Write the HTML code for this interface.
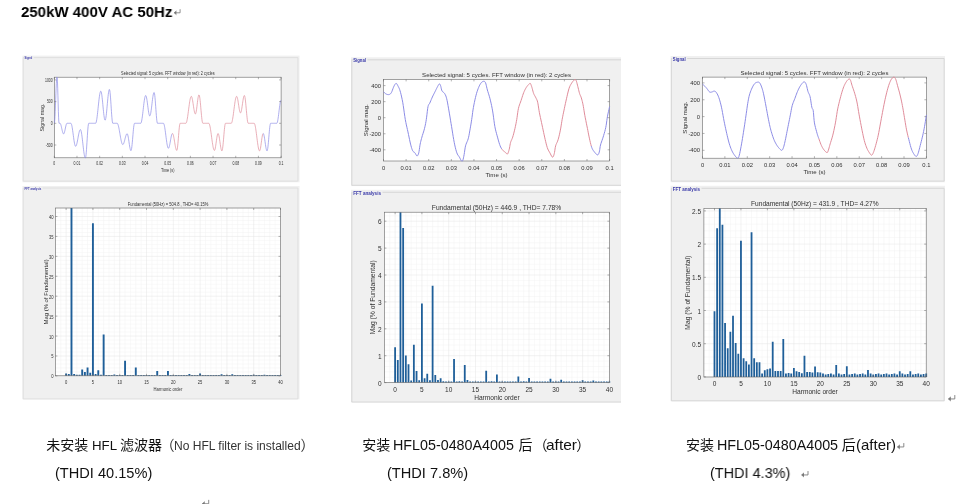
<!DOCTYPE html>
<html><head><meta charset="utf-8"><title>250kW 400V AC 50Hz</title>
<style>
html,body{margin:0;padding:0;background:#fff;}
body{width:974px;height:504px;position:relative;overflow:hidden;font-family:"Liberation Sans",sans-serif;}
svg{position:absolute;left:0;top:0;will-change:transform;}
svg text{font-family:"Liberation Sans",sans-serif;}
.t{will-change:transform;position:absolute;white-space:nowrap;line-height:1;transform-origin:0 0;display:inline-block;}
</style></head><body>
<svg width="974" height="504" viewBox="0 0 974 504">
<rect x="22.4" y="55.6" width="277.1" height="126.7" fill="#f0f0f0"/>
<rect x="22.4" y="186" width="277.1" height="213.4" fill="#f0f0f0"/>
<rect x="54.3" y="77.2" width="226.8" height="80.6" fill="#fff" stroke="#666" stroke-width="0.6"/>
<path d="M54.3 123.3 L54.53 122.5 L54.75 120.16 L54.98 116.44 L55.21 111.58 L55.43 105.93 L55.66 99.86 L55.89 93.8 L56.11 88.15 L56.34 83.29 L56.57 79.57 L56.79 77.23 L57.02 77.2 L57.25 77.84 L57.48 81.91 L57.7 88.15 L57.93 95.79 L58.16 103.93 L58.38 111.58 L58.61 117.82 L58.84 121.89 L59.06 123.3 L59.29 123.3 L59.52 123.3 L59.74 123.3 L59.97 123.3 L60.2 123.4 L60.42 123.7 L60.65 124.19 L60.88 124.85 L61.1 125.65 L61.33 126.57 L61.56 127.56 L61.78 128.59 L62.01 129.63 L62.24 130.62 L62.46 131.54 L62.69 132.34 L62.92 133 L63.15 133.49 L63.37 133.79 L63.6 133.89 L63.83 133.77 L64.05 133.43 L64.28 132.88 L64.51 132.14 L64.73 131.24 L64.96 130.23 L65.19 129.15 L65.41 128.04 L65.64 126.96 L65.87 125.95 L66.09 125.05 L66.32 124.31 L66.55 123.76 L66.77 123.42 L67 123.3 L67.23 123.3 L67.45 123.3 L67.68 123.3 L67.91 123.3 L68.13 123.3 L68.36 123.3 L68.59 123.3 L68.82 123.3 L69.04 123.3 L69.27 123.3 L69.5 123.3 L69.72 123.3 L69.95 123.3 L70.18 123.3 L70.4 123.3 L70.63 123.3 L70.86 123.3 L71.08 123.43 L71.31 123.81 L71.54 124.44 L71.76 125.3 L71.99 126.37 L72.22 127.63 L72.44 129.05 L72.67 130.6 L72.9 132.24 L73.12 133.94 L73.35 135.66 L73.58 137.36 L73.8 139 L74.03 140.55 L74.26 141.97 L74.49 143.23 L74.71 144.3 L74.94 145.16 L75.17 145.79 L75.39 146.17 L75.62 146.3 L75.85 146.21 L76.07 145.93 L76.3 145.47 L76.53 144.85 L76.75 144.07 L76.98 143.16 L77.21 142.12 L77.43 141 L77.66 139.81 L77.89 138.57 L78.11 137.32 L78.34 136.09 L78.57 134.9 L78.79 133.77 L79.02 132.74 L79.25 131.82 L79.47 131.04 L79.7 130.42 L79.93 129.96 L80.16 129.69 L80.38 129.59 L80.61 129.74 L80.84 130.17 L81.06 130.88 L81.29 131.85 L81.52 133.06 L81.74 134.5 L81.97 136.12 L82.2 137.9 L82.42 139.8 L82.65 141.78 L82.88 143.81 L83.1 145.83 L83.33 147.81 L83.56 149.71 L83.78 151.49 L84.01 153.11 L84.24 154.55 L84.46 155.76 L84.69 156.74 L84.92 157.44 L85.14 157.8 L85.37 157.8 L85.6 157.64 L85.83 156.52 L86.05 154.7 L86.28 152.28 L86.51 149.34 L86.73 146.02 L86.96 142.47 L87.19 138.85 L87.41 135.3 L87.64 131.98 L87.87 129.04 L88.09 126.62 L88.32 124.8 L88.55 123.68 L88.77 123.3 L89 123.3 L89.23 123.3 L89.45 123.3 L89.68 123.3 L89.91 123.3 L90.13 123.3 L90.36 123.3 L90.59 123.3 L90.81 123.3 L91.04 123.3 L91.27 123.3 L91.5 123.3 L91.72 123.3 L91.95 123.3 L92.18 123.3 L92.4 123.3 L92.63 123.3 L92.86 123.3 L93.08 123.3 L93.31 123.3 L93.54 123.3 L93.76 123.3 L93.99 123.3 L94.22 123.3 L94.44 123.3 L94.67 123.3 L94.9 123.3 L95.12 123.3 L95.35 123.3 L95.58 123.3 L95.8 123.15 L96.03 122.7 L96.26 121.97 L96.48 120.96 L96.71 119.7 L96.94 118.2 L97.17 116.5 L97.39 114.63 L97.62 112.62 L97.85 110.51 L98.07 108.34 L98.3 106.15 L98.53 103.97 L98.75 101.86 L98.98 99.85 L99.21 97.98 L99.43 96.28 L99.66 94.79 L99.89 93.52 L100.11 92.51 L100.34 91.78 L100.57 91.33 L100.79 91.18 L101.02 91.38 L101.25 91.97 L101.47 92.94 L101.7 94.25 L101.93 95.88 L102.15 97.77 L102.38 99.88 L102.61 102.15 L102.84 104.52 L103.06 106.92 L103.29 109.29 L103.52 111.56 L103.74 113.68 L103.97 115.57 L104.2 117.2 L104.42 118.51 L104.65 119.47 L104.88 120.06 L105.1 120.26 L105.33 120.05 L105.56 119.43 L105.78 118.41 L106.01 117.01 L106.24 115.29 L106.46 113.28 L106.69 111.04 L106.92 108.64 L107.14 106.13 L107.37 103.58 L107.6 101.07 L107.82 98.67 L108.05 96.43 L108.28 94.42 L108.51 92.7 L108.73 91.3 L108.96 90.28 L109.19 89.66 L109.41 89.45 L109.64 89.82 L109.87 90.91 L110.09 92.68 L110.32 95.05 L110.55 97.91 L110.77 101.14 L111 104.6 L111.23 108.14 L111.45 111.6 L111.68 114.84 L111.91 117.7 L112.13 120.07 L112.36 121.84 L112.59 122.93 L112.81 123.3 L113.04 123.3 L113.27 123.3 L113.49 123.3 L113.72 123.3 L113.95 123.3 L114.18 123.3 L114.4 123.3 L114.63 123.3 L114.86 123.3 L115.08 123.3 L115.31 123.3 L115.54 123.3 L115.76 123.3 L115.99 123.3 L116.22 123.3 L116.44 123.3 L116.67 123.3 L116.9 123.3 L117.12 123.3 L117.35 123.38 L117.58 123.63 L117.8 124.05 L118.03 124.62 L118.26 125.33 L118.48 126.18 L118.71 127.16 L118.94 128.24 L119.16 129.41 L119.39 130.65 L119.62 131.94 L119.85 133.27 L120.07 134.6 L120.3 135.93 L120.53 137.22 L120.75 138.46 L120.98 139.63 L121.21 140.71 L121.43 141.68 L121.66 142.54 L121.89 143.25 L122.11 143.82 L122.34 144.23 L122.57 144.48 L122.79 144.57 L123.02 144.49 L123.25 144.27 L123.47 143.91 L123.7 143.42 L123.93 142.82 L124.15 142.11 L124.38 141.32 L124.61 140.47 L124.83 139.59 L125.06 138.69 L125.29 137.81 L125.52 136.96 L125.74 136.17 L125.97 135.47 L126.2 134.86 L126.42 134.37 L126.65 134.01 L126.88 133.79 L127.1 133.72 L127.33 133.86 L127.56 134.29 L127.78 134.98 L128.01 135.92 L128.24 137.08 L128.46 138.41 L128.69 139.86 L128.92 141.4 L129.14 142.96 L129.37 144.5 L129.6 145.95 L129.82 147.28 L130.05 148.43 L130.28 149.37 L130.5 150.07 L130.73 150.5 L130.96 150.64 L131.19 150.38 L131.41 149.6 L131.64 148.34 L131.87 146.64 L132.09 144.57 L132.32 142.2 L132.55 139.64 L132.77 136.97 L133 134.3 L133.23 131.74 L133.45 129.38 L133.68 127.3 L133.91 125.6 L134.13 124.34 L134.36 123.56 L134.59 123.3 L134.81 123.3 L135.04 123.3 L135.27 123.3 L135.49 123.3 L135.72 123.3 L135.95 123.3 L136.17 123.3 L136.4 123.3 L136.63 123.3 L136.86 123.3 L137.08 123.3 L137.31 123.3 L137.54 123.3 L137.76 123.3 L137.99 123.3 L138.22 123.3 L138.44 123.3 L138.67 123.3 L138.9 123.3 L139.12 123.3 L139.35 123.3 L139.58 123.3 L139.8 123.3 L140.03 123.3 L140.26 123.3 L140.48 123.3 L140.71 123.3 L140.94 123.16 L141.16 122.74 L141.39 122.04 L141.62 121.1 L141.84 119.91 L142.07 118.51 L142.3 116.92 L142.53 115.18 L142.75 113.32 L142.98 111.39 L143.21 109.41 L143.43 107.44 L143.66 105.5 L143.89 103.64 L144.11 101.9 L144.34 100.32 L144.57 98.92 L144.79 97.73 L145.02 96.78 L145.25 96.09 L145.47 95.67 L145.7 95.52 L145.93 95.68 L146.15 96.14 L146.38 96.89 L146.61 97.91 L146.83 99.17 L147.06 100.62 L147.29 102.23 L147.51 103.95 L147.74 105.72 L147.97 107.49 L148.2 109.21 L148.42 110.82 L148.65 112.28 L148.88 113.54 L149.1 114.56 L149.33 115.31 L149.56 115.77 L149.78 115.92 L150.01 115.76 L150.24 115.29 L150.46 114.51 L150.69 113.45 L150.92 112.14 L151.14 110.61 L151.37 108.91 L151.6 107.08 L151.82 105.17 L152.05 103.24 L152.28 101.33 L152.5 99.5 L152.73 97.79 L152.96 96.27 L153.18 94.96 L153.41 93.9 L153.64 93.12 L153.87 92.65 L154.09 92.49 L154.32 92.82 L154.55 93.82 L154.77 95.43 L155 97.58 L155.23 100.19 L155.45 103.13 L155.68 106.28 L155.91 109.5 L156.13 112.65 L156.36 115.6 L156.59 118.2 L156.81 120.36 L157.04 121.97 L157.27 122.96 L157.49 123.3 L157.72 123.3 L157.95 123.3 L158.17 123.3 L158.4 123.3 L158.63 123.3 L158.85 123.3 L159.08 123.3 L159.31 123.3 L159.54 123.3 L159.76 123.3 L159.99 123.3 L160.22 123.3 L160.44 123.3 L160.67 123.3 L160.9 123.3 L161.12 123.3 L161.35 123.3 L161.58 123.3 L161.8 123.3 L162.03 123.3 L162.26 123.3 L162.48 123.3 L162.71 123.3 L162.94 123.3 L163.16 123.3 L163.39 123.3 L163.62 123.43 L163.84 123.81 L164.07 124.43 L164.3 125.28 L164.52 126.35 L164.75 127.61 L164.98 129.03 L165.21 130.59 L165.43 132.26 L165.66 134 L165.89 135.78 L166.11 137.55 L166.34 139.29 L166.57 140.96 L166.79 142.52 L167.02 143.95 L167.25 145.21 L167.47 146.27 L167.7 147.13 L167.93 147.75 L168.15 148.13 L168.38 148.25 L168.61 148.14 L168.83 147.81 L169.06 147.27 L169.29 146.53 L169.51 145.62 L169.74 144.57 L169.97 143.4 L170.19 142.16 L170.42 140.88 L170.65 139.6 L170.88 138.35 L171.1 137.19 L171.33 136.13 L171.56 135.23 L171.78 134.49 L172.01 133.94 L172.24 133.61" fill="none" stroke="#8c8ce6" stroke-width="0.7" stroke-linejoin="round"/>
<path d="M172.24 133.61 L172.24 133.61 L172.46 133.5 L172.69 133.61 L172.92 133.96 L173.14 134.52 L173.37 135.28 L173.6 136.23 L173.82 137.33 L174.05 138.56 L174.28 139.88 L174.5 141.26 L174.73 142.66 L174.96 144.04 L175.18 145.36 L175.41 146.59 L175.64 147.69 L175.86 148.64 L176.09 149.4 L176.32 149.97 L176.55 150.31 L176.77 150.43 L177 150.13 L177.23 149.25 L177.45 147.83 L177.68 145.94 L177.91 143.64 L178.13 141.05 L178.36 138.28 L178.59 135.44 L178.81 132.67 L179.04 130.08 L179.27 127.79 L179.49 125.89 L179.72 124.47 L179.95 123.6 L180.17 123.3 L180.4 123.3 L180.63 123.3 L180.85 123.3 L181.08 123.3 L181.31 123.3 L181.53 123.3 L181.76 123.3 L181.99 123.3 L182.22 123.3 L182.44 123.3 L182.67 123.3 L182.9 123.3 L183.12 123.3 L183.35 123.3 L183.58 123.3 L183.8 123.3 L184.03 123.3 L184.26 123.3 L184.48 123.3 L184.71 123.3 L184.94 123.3 L185.16 123.3 L185.39 123.3 L185.62 123.3 L185.84 123.3 L186.07 123.18 L186.3 122.84 L186.52 122.28 L186.75 121.5 L186.98 120.52 L187.2 119.36 L187.43 118.04 L187.66 116.57 L187.89 114.99 L188.11 113.33 L188.34 111.6 L188.57 109.85 L188.79 108.09 L189.02 106.36 L189.25 104.7 L189.47 103.12 L189.7 101.66 L189.93 100.33 L190.15 99.17 L190.38 98.19 L190.61 97.42 L190.83 96.85 L191.06 96.51 L191.29 96.39 L191.51 96.53 L191.74 96.92 L191.97 97.57 L192.19 98.45 L192.42 99.53 L192.65 100.79 L192.87 102.17 L193.1 103.65 L193.33 105.18 L193.56 106.71 L193.78 108.19 L194.01 109.57 L194.24 110.83 L194.46 111.91 L194.69 112.79 L194.92 113.44 L195.14 113.84 L195.37 113.97 L195.6 113.79 L195.82 113.24 L196.05 112.36 L196.28 111.17 L196.5 109.73 L196.73 108.07 L196.96 106.28 L197.18 104.42 L197.41 102.56 L197.64 100.77 L197.86 99.12 L198.09 97.67 L198.32 96.48 L198.54 95.6 L198.77 95.06 L199 94.87 L199.23 95.12 L199.45 95.83 L199.68 97 L199.91 98.58 L200.13 100.52 L200.36 102.75 L200.59 105.2 L200.81 107.78 L201.04 110.4 L201.27 112.98 L201.49 115.42 L201.72 117.65 L201.95 119.59 L202.17 121.17 L202.4 122.34 L202.63 123.06 L202.85 123.3 L203.08 123.3 L203.31 123.3 L203.53 123.3 L203.76 123.3 L203.99 123.3 L204.21 123.3 L204.44 123.3 L204.67 123.3 L204.9 123.3 L205.12 123.3 L205.35 123.3 L205.58 123.3 L205.8 123.3 L206.03 123.3 L206.26 123.3 L206.48 123.3 L206.71 123.3 L206.94 123.3 L207.16 123.3 L207.39 123.3 L207.62 123.3 L207.84 123.3 L208.07 123.3 L208.3 123.3 L208.52 123.3 L208.75 123.3 L208.98 123.41 L209.2 123.73 L209.43 124.25 L209.66 124.98 L209.88 125.89 L210.11 126.98 L210.34 128.22 L210.57 129.6 L210.79 131.09 L211.02 132.67 L211.25 134.32 L211.47 136.01 L211.7 137.71 L211.93 139.4 L212.15 141.05 L212.38 142.64 L212.61 144.13 L212.83 145.51 L213.06 146.75 L213.29 147.83 L213.51 148.75 L213.74 149.47 L213.97 150 L214.19 150.32 L214.42 150.43 L214.65 150.26 L214.87 149.78 L215.1 149 L215.33 147.95 L215.55 146.66 L215.78 145.2 L216.01 143.61 L216.24 141.96 L216.46 140.31 L216.69 138.72 L216.92 137.26 L217.14 135.98 L217.37 134.93 L217.6 134.14 L217.82 133.66 L218.05 133.5 L218.28 133.65 L218.5 134.09 L218.73 134.8 L218.96 135.76 L219.18 136.95 L219.41 138.31 L219.64 139.8 L219.86 141.38 L220.09 142.98 L220.32 144.55 L220.54 146.05 L220.77 147.41 L221 148.59 L221.22 149.56 L221.45 150.27 L221.68 150.71 L221.91 150.86 L222.13 150.59 L222.36 149.81 L222.59 148.54 L222.81 146.82 L223.04 144.73 L223.27 142.35 L223.49 139.77 L223.72 137.08 L223.95 134.39 L224.17 131.81 L224.4 129.42 L224.63 127.34 L224.85 125.62 L225.08 124.35 L225.31 123.56 L225.53 123.3 L225.76 123.3 L225.99 123.3 L226.21 123.3 L226.44 123.3 L226.67 123.3 L226.89 123.3 L227.12 123.3 L227.35 123.3 L227.58 123.3 L227.8 123.3 L228.03 123.3 L228.26 123.3 L228.48 123.3 L228.71 123.3 L228.94 123.3 L229.16 123.3 L229.39 123.3 L229.62 123.3 L229.84 123.3 L230.07 123.3 L230.3 123.3 L230.52 123.3 L230.75 123.3 L230.98 123.3 L231.2 123.3 L231.43 123.18 L231.66 122.84 L231.88 122.28 L232.11 121.5 L232.34 120.52 L232.56 119.36 L232.79 118.04 L233.02 116.57 L233.25 114.99 L233.47 113.33 L233.7 111.6 L233.93 109.85 L234.15 108.09 L234.38 106.36 L234.61 104.7 L234.83 103.12 L235.06 101.66 L235.29 100.33 L235.51 99.17 L235.74 98.19 L235.97 97.42 L236.19 96.85 L236.42 96.51 L236.65 96.39 L236.87 96.53 L237.1 96.95 L237.33 97.63 L237.55 98.54 L237.78 99.67 L238.01 100.96 L238.23 102.38 L238.46 103.88 L238.69 105.4 L238.92 106.89 L239.14 108.31 L239.37 109.61 L239.6 110.73 L239.82 111.65 L240.05 112.33 L240.28 112.74 L240.5 112.88 L240.73 112.74 L240.96 112.3 L241.18 111.58 L241.41 110.62 L241.64 109.43 L241.86 108.07 L242.09 106.58 L242.32 105 L242.54 103.4 L242.77 101.83 L243 100.33 L243.22 98.97 L243.45 97.79 L243.68 96.82 L243.9 96.11 L244.13 95.67 L244.36 95.52 L244.59 95.76 L244.81 96.46 L245.04 97.6 L245.27 99.15 L245.49 101.04 L245.72 103.22 L245.95 105.61 L246.17 108.13 L246.4 110.69 L246.63 113.21 L246.85 115.6 L247.08 117.78 L247.31 119.68 L247.53 121.22 L247.76 122.36 L247.99 123.06 L248.21 123.3 L248.44 123.3 L248.67 123.3 L248.89 123.3 L249.12 123.3 L249.35 123.3 L249.57 123.3 L249.8 123.3 L250.03 123.3 L250.26 123.3 L250.48 123.3 L250.71 123.3 L250.94 123.3 L251.16 123.3 L251.39 123.3 L251.62 123.3 L251.84 123.3 L252.07 123.3 L252.3 123.3 L252.52 123.3 L252.75 123.3 L252.98 123.3 L253.2 123.3 L253.43 123.3 L253.66 123.3 L253.88 123.3 L254.11 123.3 L254.34 123.42 L254.56 123.77 L254.79 124.35 L255.02 125.15 L255.24 126.15 L255.47 127.34 L255.7 128.69 L255.93 130.19 L256.15 131.81 L256.38 133.51 L256.61 135.28 L256.83 137.08 L257.06 138.88 L257.29 140.65 L257.51 142.35 L257.74 143.97 L257.97 145.47 L258.19 146.82 L258.42 148.01 L258.65 149.01 L258.87 149.81 L259.1 150.39 L259.33 150.74 L259.55 150.86 L259.78 150.69 L260.01 150.2 L260.23 149.4 L260.46 148.32 L260.69 147 L260.91 145.5 L261.14 143.87 L261.37 142.18 L261.6 140.49 L261.82 138.86 L262.05 137.36 L262.28 136.04 L262.5 134.96 L262.73 134.16 L262.96 133.67" fill="none" stroke="#e08c9a" stroke-width="0.7" stroke-linejoin="round"/>
<path d="M262.96 133.67 L262.96 133.67 L263.18 133.5 L263.41 133.65 L263.64 134.09 L263.86 134.8 L264.09 135.76 L264.32 136.95 L264.54 138.31 L264.77 139.8 L265 141.38 L265.22 142.98 L265.45 144.55 L265.68 146.05 L265.9 147.41 L266.13 148.59 L266.36 149.56 L266.58 150.27 L266.81 150.71 L267.04 150.86 L267.27 150.59 L267.49 149.81 L267.72 148.54 L267.95 146.82 L268.17 144.73 L268.4 142.35 L268.63 139.77 L268.85 137.08 L269.08 134.39 L269.31 131.81 L269.53 129.42 L269.76 127.34 L269.99 125.62 L270.21 124.35 L270.44 123.56 L270.67 123.3 L270.89 123.3 L271.12 123.3 L271.35 123.3 L271.57 123.3 L271.8 123.3 L272.03 123.3 L272.25 123.3 L272.48 123.3 L272.71 123.3 L272.94 123.3 L273.16 123.3 L273.39 123.3 L273.62 123.3 L273.84 123.3 L274.07 123.3 L274.3 123.3 L274.52 123.3 L274.75 123.3 L274.98 123.3 L275.2 123.3 L275.43 123.3 L275.66 123.3 L275.88 123.3 L276.11 123.3 L276.34 123.3 L276.56 123.3 L276.79 123.3 L277.02 123.14 L277.24 122.68 L277.47 121.91 L277.7 120.87 L277.92 119.59 L278.15 118.09 L278.38 116.42 L278.61 114.62 L278.83 112.75 L279.06 110.85 L279.29 108.98 L279.51 107.18 L279.74 105.51 L279.97 104.01 L280.19 102.72 L280.42 101.68 L280.65 100.92 L280.87 100.45 L281.1 100.3" fill="none" stroke="#8c8ce6" stroke-width="0.7" stroke-linejoin="round"/>
<path d="M54.3 157.8v-2M54.3 77.2v2" stroke="#666" stroke-width="0.5"/>
<text transform="translate(54.3 164.8) scale(0.72 1)" font-size="4.8" text-anchor="middle" fill="#303030" font-weight="normal">0</text>
<path d="M76.98 157.8v-2M76.98 77.2v2" stroke="#666" stroke-width="0.5"/>
<text transform="translate(76.98 164.8) scale(0.72 1)" font-size="4.8" text-anchor="middle" fill="#303030" font-weight="normal">0.01</text>
<path d="M99.66 157.8v-2M99.66 77.2v2" stroke="#666" stroke-width="0.5"/>
<text transform="translate(99.66 164.8) scale(0.72 1)" font-size="4.8" text-anchor="middle" fill="#303030" font-weight="normal">0.02</text>
<path d="M122.34 157.8v-2M122.34 77.2v2" stroke="#666" stroke-width="0.5"/>
<text transform="translate(122.34 164.8) scale(0.72 1)" font-size="4.8" text-anchor="middle" fill="#303030" font-weight="normal">0.03</text>
<path d="M145.02 157.8v-2M145.02 77.2v2" stroke="#666" stroke-width="0.5"/>
<text transform="translate(145.02 164.8) scale(0.72 1)" font-size="4.8" text-anchor="middle" fill="#303030" font-weight="normal">0.04</text>
<path d="M167.7 157.8v-2M167.7 77.2v2" stroke="#666" stroke-width="0.5"/>
<text transform="translate(167.7 164.8) scale(0.72 1)" font-size="4.8" text-anchor="middle" fill="#303030" font-weight="normal">0.05</text>
<path d="M190.38 157.8v-2M190.38 77.2v2" stroke="#666" stroke-width="0.5"/>
<text transform="translate(190.38 164.8) scale(0.72 1)" font-size="4.8" text-anchor="middle" fill="#303030" font-weight="normal">0.06</text>
<path d="M213.06 157.8v-2M213.06 77.2v2" stroke="#666" stroke-width="0.5"/>
<text transform="translate(213.06 164.8) scale(0.72 1)" font-size="4.8" text-anchor="middle" fill="#303030" font-weight="normal">0.07</text>
<path d="M235.74 157.8v-2M235.74 77.2v2" stroke="#666" stroke-width="0.5"/>
<text transform="translate(235.74 164.8) scale(0.72 1)" font-size="4.8" text-anchor="middle" fill="#303030" font-weight="normal">0.08</text>
<path d="M258.42 157.8v-2M258.42 77.2v2" stroke="#666" stroke-width="0.5"/>
<text transform="translate(258.42 164.8) scale(0.72 1)" font-size="4.8" text-anchor="middle" fill="#303030" font-weight="normal">0.09</text>
<path d="M281.1 157.8v-2M281.1 77.2v2" stroke="#666" stroke-width="0.5"/>
<text transform="translate(281.1 164.8) scale(0.72 1)" font-size="4.8" text-anchor="middle" fill="#303030" font-weight="normal">0.1</text>
<path d="M54.3 79.9h2M281.1 79.9h-2" stroke="#666" stroke-width="0.5"/>
<text transform="translate(52.7 81.63) scale(0.72 1)" font-size="4.8" text-anchor="end" fill="#303030" font-weight="normal">1000</text>
<path d="M54.3 101.6h2M281.1 101.6h-2" stroke="#666" stroke-width="0.5"/>
<text transform="translate(52.7 103.33) scale(0.72 1)" font-size="4.8" text-anchor="end" fill="#303030" font-weight="normal">500</text>
<path d="M54.3 123.3h2M281.1 123.3h-2" stroke="#666" stroke-width="0.5"/>
<text transform="translate(52.7 125.03) scale(0.72 1)" font-size="4.8" text-anchor="end" fill="#303030" font-weight="normal">0</text>
<path d="M54.3 145h2M281.1 145h-2" stroke="#666" stroke-width="0.5"/>
<text transform="translate(52.7 146.73) scale(0.72 1)" font-size="4.8" text-anchor="end" fill="#303030" font-weight="normal">-500</text>
<text transform="translate(121.1 75.2)" font-size="5.2" text-anchor="start" fill="#303030" font-weight="normal" textLength="93.5" lengthAdjust="spacingAndGlyphs">Selected signal: 5 cycles. FFT window (in red): 2 cycles</text>
<text transform="translate(167.7 171.6) scale(0.72 1)" font-size="5.2" text-anchor="middle" fill="#303030" font-weight="normal">Time (s)</text>
<text transform="translate(44.2 117.5) rotate(-90)" font-size="5.2" text-anchor="middle" fill="#303030" font-weight="normal" textLength="28" lengthAdjust="spacingAndGlyphs">Signal mag.</text>
<rect x="55.4" y="208" width="225.1" height="167.8" fill="#fff"/>
<path d="M60.76 208V375.8M71.48 208V375.8M76.84 208V375.8M82.2 208V375.8M87.56 208V375.8M98.28 208V375.8M103.64 208V375.8M109 208V375.8M114.35 208V375.8M125.07 208V375.8M130.43 208V375.8M135.79 208V375.8M141.15 208V375.8M151.87 208V375.8M157.23 208V375.8M162.59 208V375.8M167.95 208V375.8M178.67 208V375.8M184.03 208V375.8M189.39 208V375.8M194.75 208V375.8M205.47 208V375.8M210.83 208V375.8M216.19 208V375.8M221.55 208V375.8M232.26 208V375.8M237.62 208V375.8M242.98 208V375.8M248.34 208V375.8M259.06 208V375.8M264.42 208V375.8M269.78 208V375.8M275.14 208V375.8M55.4 371.91H280.5M55.4 367.93H280.5M55.4 363.94H280.5M55.4 359.96H280.5M55.4 351.99H280.5M55.4 348H280.5M55.4 344.02H280.5M55.4 340.03H280.5M55.4 332.06H280.5M55.4 328.08H280.5M55.4 324.09H280.5M55.4 320.11H280.5M55.4 312.14H280.5M55.4 308.15H280.5M55.4 304.17H280.5M55.4 300.18H280.5M55.4 292.21H280.5M55.4 288.23H280.5M55.4 284.25H280.5M55.4 280.26H280.5M55.4 272.29H280.5M55.4 268.3H280.5M55.4 264.32H280.5M55.4 260.33H280.5M55.4 252.36H280.5M55.4 248.38H280.5M55.4 244.39H280.5M55.4 240.41H280.5M55.4 232.44H280.5M55.4 228.45H280.5M55.4 224.47H280.5M55.4 220.48H280.5M55.4 212.51H280.5M55.4 208.53H280.5" stroke="#f2f2f2" stroke-width="0.5" fill="none"/>
<path d="M66.12 208V375.8M92.92 208V375.8M119.71 208V375.8M146.51 208V375.8M173.31 208V375.8M200.11 208V375.8M226.9 208V375.8M253.7 208V375.8M55.4 375.9H280.5M55.4 355.97H280.5M55.4 336.05H280.5M55.4 316.12H280.5M55.4 296.2H280.5M55.4 276.27H280.5M55.4 256.35H280.5M55.4 236.42H280.5M55.4 216.5H280.5" stroke="#e4e4e4" stroke-width="0.5" fill="none"/>
<path d="M65.17 375.8V373.51h1.9V375.8zM67.85 375.8V373.91h1.9V375.8zM70.53 375.8V208h1.9V375.8zM73.21 375.8V373.91h1.9V375.8zM75.89 375.8V374.7h1.9V375.8zM78.57 375.8V374.7h1.9V375.8zM81.25 375.8V369.52h1.9V375.8zM83.93 375.8V371.91h1.9V375.8zM86.61 375.8V367.53h1.9V375.8zM89.29 375.8V372.71h1.9V375.8zM91.97 375.8V223.27h1.9V375.8zM94.65 375.8V373.91h1.9V375.8zM97.33 375.8V370.32h1.9V375.8zM100.01 375.8V374.7h1.9V375.8zM102.69 375.8V334.46h1.9V375.8zM105.37 375.8V374.9h1.9V375.8zM108.05 375.8V374.9h1.9V375.8zM110.72 375.8V374.9h1.9V375.8zM113.4 375.8V374.51h1.9V375.8zM116.08 375.8V374.9h1.9V375.8zM118.76 375.8V374.9h1.9V375.8zM121.44 375.8V374.9h1.9V375.8zM124.12 375.8V360.76h1.9V375.8zM126.8 375.8V374.9h1.9V375.8zM129.48 375.8V374.9h1.9V375.8zM132.16 375.8V374.9h1.9V375.8zM134.84 375.8V367.53h1.9V375.8zM137.52 375.8V374.9h1.9V375.8zM140.2 375.8V374.9h1.9V375.8zM142.88 375.8V374.9h1.9V375.8zM145.56 375.8V374.9h1.9V375.8zM148.24 375.8V374.9h1.9V375.8zM150.92 375.8V374.9h1.9V375.8zM153.6 375.8V374.9h1.9V375.8zM156.28 375.8V371.12h1.9V375.8zM158.96 375.8V374.9h1.9V375.8zM161.64 375.8V374.9h1.9V375.8zM164.32 375.8V374.9h1.9V375.8zM167 375.8V371.12h1.9V375.8zM169.68 375.8V374.9h1.9V375.8zM172.36 375.8V374.9h1.9V375.8zM175.04 375.8V374.9h1.9V375.8zM177.72 375.8V374.9h1.9V375.8zM180.4 375.8V374.9h1.9V375.8zM183.08 375.8V374.9h1.9V375.8zM185.76 375.8V374.9h1.9V375.8zM188.44 375.8V373.91h1.9V375.8zM191.12 375.8V374.9h1.9V375.8zM193.8 375.8V374.9h1.9V375.8zM196.48 375.8V374.9h1.9V375.8zM199.16 375.8V373.51h1.9V375.8zM201.84 375.8V374.9h1.9V375.8zM204.52 375.8V374.9h1.9V375.8zM207.2 375.8V374.9h1.9V375.8zM209.88 375.8V374.9h1.9V375.8zM212.56 375.8V374.9h1.9V375.8zM215.24 375.8V374.9h1.9V375.8zM217.92 375.8V374.9h1.9V375.8zM220.6 375.8V374.31h1.9V375.8zM223.28 375.8V374.9h1.9V375.8zM225.95 375.8V374.9h1.9V375.8zM228.63 375.8V374.9h1.9V375.8zM231.31 375.8V374.31h1.9V375.8zM233.99 375.8V374.9h1.9V375.8zM236.67 375.8V374.9h1.9V375.8zM239.35 375.8V374.9h1.9V375.8zM242.03 375.8V374.9h1.9V375.8zM244.71 375.8V374.9h1.9V375.8zM247.39 375.8V374.9h1.9V375.8zM250.07 375.8V374.9h1.9V375.8zM252.75 375.8V374.7h1.9V375.8zM255.43 375.8V374.9h1.9V375.8zM258.11 375.8V374.9h1.9V375.8zM260.79 375.8V374.9h1.9V375.8zM263.47 375.8V374.7h1.9V375.8zM266.15 375.8V374.9h1.9V375.8zM268.83 375.8V374.9h1.9V375.8zM271.51 375.8V374.9h1.9V375.8zM274.19 375.8V374.9h1.9V375.8zM276.87 375.8V374.9h1.9V375.8zM279.55 375.8V374.9h1.9V375.8z" fill="#1f5f99"/>
<rect x="55.4" y="208" width="225.1" height="167.8" fill="none" stroke="#666" stroke-width="0.6"/>
<path d="M66.12 375.8v-2M66.12 208v2" stroke="#666" stroke-width="0.5"/>
<text transform="translate(66.12 384) scale(0.72 1)" font-size="5.7" text-anchor="middle" fill="#303030" font-weight="normal">0</text>
<path d="M92.92 375.8v-2M92.92 208v2" stroke="#666" stroke-width="0.5"/>
<text transform="translate(92.92 384) scale(0.72 1)" font-size="5.7" text-anchor="middle" fill="#303030" font-weight="normal">5</text>
<path d="M119.71 375.8v-2M119.71 208v2" stroke="#666" stroke-width="0.5"/>
<text transform="translate(119.71 384) scale(0.72 1)" font-size="5.7" text-anchor="middle" fill="#303030" font-weight="normal">10</text>
<path d="M146.51 375.8v-2M146.51 208v2" stroke="#666" stroke-width="0.5"/>
<text transform="translate(146.51 384) scale(0.72 1)" font-size="5.7" text-anchor="middle" fill="#303030" font-weight="normal">15</text>
<path d="M173.31 375.8v-2M173.31 208v2" stroke="#666" stroke-width="0.5"/>
<text transform="translate(173.31 384) scale(0.72 1)" font-size="5.7" text-anchor="middle" fill="#303030" font-weight="normal">20</text>
<path d="M200.11 375.8v-2M200.11 208v2" stroke="#666" stroke-width="0.5"/>
<text transform="translate(200.11 384) scale(0.72 1)" font-size="5.7" text-anchor="middle" fill="#303030" font-weight="normal">25</text>
<path d="M226.9 375.8v-2M226.9 208v2" stroke="#666" stroke-width="0.5"/>
<text transform="translate(226.9 384) scale(0.72 1)" font-size="5.7" text-anchor="middle" fill="#303030" font-weight="normal">30</text>
<path d="M253.7 375.8v-2M253.7 208v2" stroke="#666" stroke-width="0.5"/>
<text transform="translate(253.7 384) scale(0.72 1)" font-size="5.7" text-anchor="middle" fill="#303030" font-weight="normal">35</text>
<path d="M280.5 375.8v-2M280.5 208v2" stroke="#666" stroke-width="0.5"/>
<text transform="translate(280.5 384) scale(0.72 1)" font-size="5.7" text-anchor="middle" fill="#303030" font-weight="normal">40</text>
<path d="M55.4 375.9h2M280.5 375.9h-2" stroke="#666" stroke-width="0.5"/>
<text transform="translate(53.5 378.35) scale(0.72 1)" font-size="5.7" text-anchor="end" fill="#303030" font-weight="normal">0</text>
<path d="M55.4 355.97h2M280.5 355.97h-2" stroke="#666" stroke-width="0.5"/>
<text transform="translate(53.5 358.43) scale(0.72 1)" font-size="5.7" text-anchor="end" fill="#303030" font-weight="normal">5</text>
<path d="M55.4 336.05h2M280.5 336.05h-2" stroke="#666" stroke-width="0.5"/>
<text transform="translate(53.5 338.5) scale(0.72 1)" font-size="5.7" text-anchor="end" fill="#303030" font-weight="normal">10</text>
<path d="M55.4 316.12h2M280.5 316.12h-2" stroke="#666" stroke-width="0.5"/>
<text transform="translate(53.5 318.58) scale(0.72 1)" font-size="5.7" text-anchor="end" fill="#303030" font-weight="normal">15</text>
<path d="M55.4 296.2h2M280.5 296.2h-2" stroke="#666" stroke-width="0.5"/>
<text transform="translate(53.5 298.65) scale(0.72 1)" font-size="5.7" text-anchor="end" fill="#303030" font-weight="normal">20</text>
<path d="M55.4 276.27h2M280.5 276.27h-2" stroke="#666" stroke-width="0.5"/>
<text transform="translate(53.5 278.73) scale(0.72 1)" font-size="5.7" text-anchor="end" fill="#303030" font-weight="normal">25</text>
<path d="M55.4 256.35h2M280.5 256.35h-2" stroke="#666" stroke-width="0.5"/>
<text transform="translate(53.5 258.8) scale(0.72 1)" font-size="5.7" text-anchor="end" fill="#303030" font-weight="normal">30</text>
<path d="M55.4 236.42h2M280.5 236.42h-2" stroke="#666" stroke-width="0.5"/>
<text transform="translate(53.5 238.88) scale(0.72 1)" font-size="5.7" text-anchor="end" fill="#303030" font-weight="normal">35</text>
<path d="M55.4 216.5h2M280.5 216.5h-2" stroke="#666" stroke-width="0.5"/>
<text transform="translate(53.5 218.95) scale(0.72 1)" font-size="5.7" text-anchor="end" fill="#303030" font-weight="normal">40</text>
<text transform="translate(127.7 205.7)" font-size="5.8" text-anchor="start" fill="#303030" font-weight="normal" textLength="80.6" lengthAdjust="spacingAndGlyphs">Fundamental (50Hz) = 504.8 , THD= 40.15%</text>
<text transform="translate(167.95 391) scale(0.72 1)" font-size="5.8" text-anchor="middle" fill="#303030" font-weight="normal">Harmonic order</text>
<text transform="translate(48.1 291.9) rotate(-90)" font-size="5.8" text-anchor="middle" fill="#303030" font-weight="normal" textLength="65" lengthAdjust="spacingAndGlyphs">Mag (% of Fundamental)</text>
<path d="M33.8 57.6H297.9V181.1H23.2V57.6H24.1" fill="none" stroke="#dadada" stroke-width="0.8"/>
<text transform="translate(24.6 59.4)" font-size="3.6" text-anchor="start" fill="#3838a8" font-weight="bold" textLength="7.7" lengthAdjust="spacingAndGlyphs">Signal</text>
<path d="M42.7 188H297.9V398.9H23.2V188H24.1" fill="none" stroke="#dadada" stroke-width="0.8"/>
<text transform="translate(24.6 189.8)" font-size="3.6" text-anchor="start" fill="#3838a8" font-weight="bold" textLength="16.6" lengthAdjust="spacingAndGlyphs">FFT analysis</text>
<rect x="351" y="57.3" width="270" height="128.8" fill="#f0f0f0"/>
<rect x="351" y="189.8" width="270" height="212.7" fill="#f0f0f0"/>
<rect x="383.5" y="79.4" width="226.1" height="81.6" fill="#fff" stroke="#666" stroke-width="0.6"/>
<path d="M383.5 91.76 L383.85 92.09 L384.34 92.59 L384.92 93.14 L385.53 93.65 L386.12 94.03 L386.7 94.28 L387.31 94.48 L387.93 94.6 L388.53 94.63 L389.09 94.55 L389.58 94.39 L390.03 94.18 L390.46 93.84 L390.89 93.34 L391.36 92.63 L391.87 91.57 L392.4 90.2 L392.95 88.71 L393.48 87.3 L393.98 86.18 L394.43 85.3 L394.87 84.55 L395.28 83.96 L395.68 83.56 L396.07 83.38 L396.43 83.47 L396.77 83.78 L397.1 84.29 L397.44 84.93 L397.82 85.65 L398.23 86.41 L398.67 87.24 L399.13 88.21 L399.6 89.4 L400.09 90.89 L400.59 92.67 L401.11 94.69 L401.64 96.96 L402.18 99.47 L402.71 102.23 L403.23 105.41 L403.75 109.02 L404.28 112.78 L404.8 116.42 L405.32 119.67 L405.85 122.45 L406.37 124.93 L406.9 127.25 L407.42 129.52 L407.94 131.88 L408.48 134.42 L409.02 137.04 L409.55 139.61 L410.07 142.01 L410.56 144.1 L411.01 145.85 L411.43 147.37 L411.83 148.67 L412.24 149.78 L412.66 150.72 L413.1 151.42 L413.56 151.84 L414.02 152.12 L414.48 152.4 L414.93 152.82 L415.36 153.48 L415.79 154.3 L416.22 155.1 L416.63 155.72 L417.02 155.96 L417.4 155.82 L417.76 155.42 L418.11 154.78 L418.45 153.9 L418.77 152.82 L419.06 151.4 L419.34 149.65 L419.6 147.73 L419.87 145.82 L420.16 144.1 L420.48 142.62 L420.8 141.26 L421.13 139.95 L421.5 138.6 L421.91 137.12 L422.39 135.48 L422.94 133.75 L423.5 131.97 L424.05 130.17 L424.53 128.39 L424.93 126.72 L425.29 125.11 L425.62 123.47 L425.94 121.7 L426.28 119.67 L426.62 117.18 L426.97 114.29 L427.32 111.34 L427.67 108.66 L428.02 106.59 L428.36 105.32 L428.68 104.63 L429.01 104.22 L429.36 103.81 L429.77 103.1 L430.24 102.03 L430.75 100.8 L431.3 99.5 L431.85 98.2 L432.39 96.99 L432.91 95.89 L433.43 94.84 L433.96 93.81 L434.48 92.79 L435.01 91.76 L435.54 90.67 L436.09 89.54 L436.64 88.43 L437.16 87.4 L437.62 86.52 L438.04 85.76 L438.41 85.08 L438.75 84.51 L439.07 84.11 L439.37 83.91 L439.65 83.92 L439.89 84.12 L440.12 84.49 L440.35 85.01 L440.59 85.65 L440.84 86.52 L441.08 87.62 L441.33 88.81 L441.63 89.95 L441.99 90.89 L442.44 91.54 L442.97 92 L443.54 92.39 L444.1 92.85 L444.61 93.5 L445.06 94.27 L445.48 95.07 L445.88 96.02 L446.28 97.2 L446.7 98.74 L447.14 100.68 L447.58 102.95 L448.03 105.48 L448.49 108.17 L448.97 110.95 L449.47 113.87 L450 116.98 L450.53 120.2 L451.06 123.45 L451.59 126.65 L452.12 129.87 L452.64 133.18 L453.16 136.45 L453.69 139.55 L454.21 142.35 L454.73 144.88 L455.26 147.21 L455.78 149.32 L456.31 151.2 L456.83 152.82 L457.35 154.08 L457.88 155 L458.4 155.73 L458.92 156.4 L459.45 157.18 L459.99 158.21 L460.54 159.38 L461.08 160.49 L461.6 161 L462.07 161 L462.47 161 L462.83 160.39 L463.16 159.24 L463.48 157.84 L463.81 156.31 L464.15 154.49 L464.47 152.33 L464.8 150.03 L465.15 147.79 L465.56 145.84 L466.04 144.25 L466.59 142.88 L467.15 141.61 L467.7 140.31 L468.18 138.86 L468.58 137.26 L468.94 135.58 L469.27 133.84 L469.59 132.02 L469.92 130.14 L470.27 128.18 L470.62 126.16 L470.97 124.07 L471.32 121.9 L471.67 119.67 L472.01 117.34 L472.33 114.91 L472.65 112.43 L473.01 109.93 L473.42 107.46 L473.88 104.95 L474.4 102.37 L474.95 99.82 L475.5 97.41 L476.04 95.25 L476.56 93.35 L477.08 91.64 L477.61 90.1 L478.13 88.7 L478.65 87.4 L479.18 86.2 L479.7 85.13 L480.23 84.18 L480.75 83.37 L481.27 82.69 L481.81 82.15 L482.36 81.74 L482.91 81.46 L483.42 81.32 L483.89 81.29 L484.3 81.36 L484.65 81.51 L484.98 81.81 L485.3 82.3 L485.64 83.04 L485.97 84.07 L486.29 85.37 L486.62 86.85 L486.98 88.42 L487.38 90.01 L487.85 91.59 L488.37 93.21 L488.91 94.91 L489.46 96.74 L490 98.74 L490.53 100.9 L491.07 103.2 L491.6 105.65 L492.12 108.23 L492.62 110.95 L493.09 113.95 L493.54 117.23 L493.98 120.58 L494.42 123.79 L494.89 126.65 L495.39 129.11 L495.91 131.3 L496.45 133.31 L496.98 135.22 L497.51 137.12 L498.03 139.04 L498.56 140.94 L499.08 142.75 L499.61 144.4 L500.13 145.84 L500.65 147.03 L501.18 148.01 L501.7 148.83" fill="none" stroke="#8c8ce6" stroke-width="1.0" stroke-linejoin="round"/>
<path d="M501.7 148.83 L502.22 149.54 L502.75 150.2 L503.28 150.77 L503.82 151.22 L504.36 151.59 L504.88 151.93 L505.37 152.29 L505.83 152.77 L506.26 153.33 L506.67 153.82 L507.07 154.11 L507.46 154.04 L507.84 153.55 L508.2 152.73 L508.55 151.69 L508.89 150.52 L509.21 149.33 L509.5 148.05 L509.76 146.62 L510.01 145.13 L510.29 143.67 L510.6 142.35 L510.98 141.25 L511.38 140.3 L511.82 139.38 L512.26 138.36 L512.7 137.12 L513.15 135.6 L513.62 133.88 L514.09 132.05 L514.55 130.19 L514.97 128.39 L515.35 126.69 L515.71 125.03 L516.04 123.35 L516.37 121.58 L516.72 119.67 L517.05 117.52 L517.37 115.16 L517.7 112.74 L518.06 110.42 L518.46 108.33 L518.93 106.54 L519.45 104.94 L519.99 103.45 L520.54 102 L521.08 100.48 L521.6 98.87 L522.13 97.22 L522.65 95.58 L523.18 94.03 L523.7 92.63 L524.22 91.38 L524.75 90.25 L525.27 89.21 L525.79 88.27 L526.32 87.4 L526.86 86.6 L527.42 85.88 L527.98 85.25 L528.49 84.71 L528.94 84.26 L529.29 83.86 L529.58 83.51 L529.82 83.27 L530.06 83.21 L530.33 83.38 L530.63 83.84 L530.94 84.54 L531.26 85.41 L531.58 86.38 L531.91 87.4 L532.24 88.51 L532.57 89.77 L532.91 91.09 L533.27 92.36 L533.65 93.5 L534.08 94.49 L534.55 95.37 L535.03 96.2 L535.49 97.02 L535.92 97.86 L536.3 98.64 L536.66 99.32 L536.99 100.04 L537.33 100.96 L537.67 102.23 L538 103.9 L538.32 105.89 L538.65 108.09 L539.01 110.39 L539.41 112.69 L539.88 115.02 L540.4 117.45 L540.94 119.94 L541.49 122.43 L542.03 124.91 L542.56 127.38 L543.08 129.87 L543.6 132.36 L544.13 134.79 L544.65 137.12 L545.17 139.41 L545.7 141.68 L546.22 143.86 L546.75 145.85 L547.27 147.58 L547.79 148.98 L548.32 150.1 L548.84 151.04 L549.36 151.91 L549.89 152.82 L550.43 153.87 L550.98 155 L551.52 156.04 L552.04 156.82 L552.51 157.18 L552.92 157.05 L553.29 156.56 L553.62 155.78 L553.94 154.79 L554.25 153.69 L554.54 152.37 L554.79 150.78 L555.03 149.06 L555.31 147.37 L555.65 145.84 L556.07 144.56 L556.56 143.44 L557.08 142.34 L557.6 141.15 L558.09 139.73 L558.57 138.05 L559.04 136.19 L559.5 134.21 L559.95 132.17 L560.36 130.14 L560.75 128.07 L561.1 125.93 L561.44 123.77 L561.77 121.67 L562.11 119.67 L562.45 117.87 L562.77 116.22 L563.09 114.61 L563.45 112.89 L563.86 110.95 L564.32 108.7 L564.84 106.23 L565.39 103.66 L565.94 101.12 L566.48 98.74 L567 96.45 L567.52 94.17 L568.05 92 L568.57 90 L569.09 88.27 L569.62 86.85 L570.14 85.7 L570.67 84.73 L571.19 83.86 L571.71 83.04 L572.25 82.21 L572.8 81.45 L573.35 80.79 L573.86 80.26 L574.33 79.9 L574.74 79.68 L575.09 79.57 L575.42 79.63 L575.74 79.9 L576.08 80.42 L576.43 81.27 L576.78 82.42 L577.13 83.75 L577.47 85.16 L577.82 86.52 L578.17 87.91 L578.52 89.38 L578.87 90.86 L579.22 92.26 L579.57 93.5 L579.92 94.5 L580.27 95.31 L580.62 96.06 L580.97 96.87 L581.32 97.86 L581.66 99.04 L582.01 100.3 L582.36 101.67 L582.71 103.18 L583.06 104.84 L583.4 106.67 L583.72 108.65 L584.05 110.77 L584.4 112.99 L584.81 115.31 L585.28 117.8 L585.82 120.48 L586.37 123.22 L586.92 125.9 L587.43 128.39 L587.88 130.68 L588.29 132.85 L588.7 134.93 L589.1 136.92 L589.52 138.86 L589.96 140.79 L590.4 142.69 L590.85 144.49 L591.31 146.15" fill="none" stroke="#e08c9a" stroke-width="1.0" stroke-linejoin="round"/>
<path d="M591.31 146.15 L591.79 147.58 L592.28 148.76 L592.79 149.71 L593.31 150.51 L593.85 151.23 L594.41 151.95 L595.03 152.72 L595.7 153.52 L596.37 154.22 L597.01 154.72 L597.55 154.91 L598 154.76 L598.38 154.34 L598.71 153.71 L599.01 152.89 L599.3 151.95 L599.55 150.82 L599.76 149.49 L599.96 148.01 L600.2 146.48 L600.52 144.97 L600.96 143.48 L601.47 141.97 L602.03 140.42 L602.59 138.81 L603.14 137.12 L603.68 135.34 L604.23 133.49 L604.77 131.57 L605.29 129.58 L605.76 127.52 L606.16 125.34 L606.5 123.03 L606.82 120.68 L607.15 118.37 L607.5 116.18 L607.94 114 L608.42 111.76 L608.9 109.65 L609.31 107.86 L609.6 106.59" fill="none" stroke="#8c8ce6" stroke-width="1.0" stroke-linejoin="round"/>
<path d="M383.5 161v-2M383.5 79.4v2" stroke="#666" stroke-width="0.5"/>
<text transform="translate(383.5 169.5)" font-size="5.8" text-anchor="middle" fill="#303030" font-weight="normal">0</text>
<path d="M406.11 161v-2M406.11 79.4v2" stroke="#666" stroke-width="0.5"/>
<text transform="translate(406.11 169.5)" font-size="5.8" text-anchor="middle" fill="#303030" font-weight="normal">0.01</text>
<path d="M428.72 161v-2M428.72 79.4v2" stroke="#666" stroke-width="0.5"/>
<text transform="translate(428.72 169.5)" font-size="5.8" text-anchor="middle" fill="#303030" font-weight="normal">0.02</text>
<path d="M451.33 161v-2M451.33 79.4v2" stroke="#666" stroke-width="0.5"/>
<text transform="translate(451.33 169.5)" font-size="5.8" text-anchor="middle" fill="#303030" font-weight="normal">0.03</text>
<path d="M473.94 161v-2M473.94 79.4v2" stroke="#666" stroke-width="0.5"/>
<text transform="translate(473.94 169.5)" font-size="5.8" text-anchor="middle" fill="#303030" font-weight="normal">0.04</text>
<path d="M496.55 161v-2M496.55 79.4v2" stroke="#666" stroke-width="0.5"/>
<text transform="translate(496.55 169.5)" font-size="5.8" text-anchor="middle" fill="#303030" font-weight="normal">0.05</text>
<path d="M519.16 161v-2M519.16 79.4v2" stroke="#666" stroke-width="0.5"/>
<text transform="translate(519.16 169.5)" font-size="5.8" text-anchor="middle" fill="#303030" font-weight="normal">0.06</text>
<path d="M541.77 161v-2M541.77 79.4v2" stroke="#666" stroke-width="0.5"/>
<text transform="translate(541.77 169.5)" font-size="5.8" text-anchor="middle" fill="#303030" font-weight="normal">0.07</text>
<path d="M564.38 161v-2M564.38 79.4v2" stroke="#666" stroke-width="0.5"/>
<text transform="translate(564.38 169.5)" font-size="5.8" text-anchor="middle" fill="#303030" font-weight="normal">0.08</text>
<path d="M586.99 161v-2M586.99 79.4v2" stroke="#666" stroke-width="0.5"/>
<text transform="translate(586.99 169.5)" font-size="5.8" text-anchor="middle" fill="#303030" font-weight="normal">0.09</text>
<path d="M609.6 161v-2M609.6 79.4v2" stroke="#666" stroke-width="0.5"/>
<text transform="translate(609.6 169.5)" font-size="5.8" text-anchor="middle" fill="#303030" font-weight="normal">0.1</text>
<path d="M383.5 85.6h2M609.6 85.6h-2" stroke="#666" stroke-width="0.5"/>
<text transform="translate(381 87.69)" font-size="5.8" text-anchor="end" fill="#303030" font-weight="normal">400</text>
<path d="M383.5 101.65h2M609.6 101.65h-2" stroke="#666" stroke-width="0.5"/>
<text transform="translate(381 103.74)" font-size="5.8" text-anchor="end" fill="#303030" font-weight="normal">200</text>
<path d="M383.5 117.7h2M609.6 117.7h-2" stroke="#666" stroke-width="0.5"/>
<text transform="translate(381 119.79)" font-size="5.8" text-anchor="end" fill="#303030" font-weight="normal">0</text>
<path d="M383.5 133.75h2M609.6 133.75h-2" stroke="#666" stroke-width="0.5"/>
<text transform="translate(381 135.84)" font-size="5.8" text-anchor="end" fill="#303030" font-weight="normal">-200</text>
<path d="M383.5 149.8h2M609.6 149.8h-2" stroke="#666" stroke-width="0.5"/>
<text transform="translate(381 151.89)" font-size="5.8" text-anchor="end" fill="#303030" font-weight="normal">-400</text>
<text transform="translate(422.1 77.3)" font-size="6.1" text-anchor="start" fill="#303030" font-weight="normal" textLength="148.9" lengthAdjust="spacingAndGlyphs">Selected signal: 5 cycles. FFT window (in red): 2 cycles</text>
<text transform="translate(496.55 176.6)" font-size="6.1" text-anchor="middle" fill="#303030" font-weight="normal">Time (s)</text>
<text transform="translate(368.2 120.2) rotate(-90)" font-size="6.1" text-anchor="middle" fill="#303030" font-weight="normal" textLength="32" lengthAdjust="spacingAndGlyphs">Signal mag.</text>
<rect x="384.4" y="212.2" width="225" height="170.3" fill="#fff"/>
<path d="M389.76 212.2V382.5M400.47 212.2V382.5M405.83 212.2V382.5M411.19 212.2V382.5M416.54 212.2V382.5M427.26 212.2V382.5M432.61 212.2V382.5M437.97 212.2V382.5M443.33 212.2V382.5M454.04 212.2V382.5M459.4 212.2V382.5M464.76 212.2V382.5M470.11 212.2V382.5M480.83 212.2V382.5M486.19 212.2V382.5M491.54 212.2V382.5M496.9 212.2V382.5M507.61 212.2V382.5M512.97 212.2V382.5M518.33 212.2V382.5M523.69 212.2V382.5M534.4 212.2V382.5M539.76 212.2V382.5M545.11 212.2V382.5M550.47 212.2V382.5M561.19 212.2V382.5M566.54 212.2V382.5M571.9 212.2V382.5M577.26 212.2V382.5M587.97 212.2V382.5M593.33 212.2V382.5M598.69 212.2V382.5M604.04 212.2V382.5M384.4 377.22H609.4M384.4 371.84H609.4M384.4 366.46H609.4M384.4 361.08H609.4M384.4 350.32H609.4M384.4 344.94H609.4M384.4 339.56H609.4M384.4 334.18H609.4M384.4 323.42H609.4M384.4 318.04H609.4M384.4 312.66H609.4M384.4 307.28H609.4M384.4 296.52H609.4M384.4 291.14H609.4M384.4 285.76H609.4M384.4 280.38H609.4M384.4 269.62H609.4M384.4 264.24H609.4M384.4 258.86H609.4M384.4 253.48H609.4M384.4 242.72H609.4M384.4 237.34H609.4M384.4 231.96H609.4M384.4 226.58H609.4M384.4 215.82H609.4" stroke="#f2f2f2" stroke-width="0.5" fill="none"/>
<path d="M395.11 212.2V382.5M421.9 212.2V382.5M448.69 212.2V382.5M475.47 212.2V382.5M502.26 212.2V382.5M529.04 212.2V382.5M555.83 212.2V382.5M582.61 212.2V382.5M384.4 382.6H609.4M384.4 355.7H609.4M384.4 328.8H609.4M384.4 301.9H609.4M384.4 275H609.4M384.4 248.1H609.4M384.4 221.2H609.4" stroke="#e4e4e4" stroke-width="0.5" fill="none"/>
<path d="M394.21 382.5V347.36h1.8V382.5zM396.89 382.5V360h1.8V382.5zM399.57 382.5V212.2h1.8V382.5zM402.25 382.5V227.93h1.8V382.5zM404.93 382.5V355.43h1.8V382.5zM407.61 382.5V364.31h1.8V382.5zM410.29 382.5V380.45h1.8V382.5zM412.96 382.5V344.67h1.8V382.5zM415.64 382.5V371.03h1.8V382.5zM418.32 382.5V380.18h1.8V382.5zM421 382.5V303.51h1.8V382.5zM423.68 382.5V378.3h1.8V382.5zM426.36 382.5V373.72h1.8V382.5zM429.04 382.5V380.18h1.8V382.5zM431.71 382.5V285.76h1.8V382.5zM434.39 382.5V375.07h1.8V382.5zM437.07 382.5V379.91h1.8V382.5zM439.75 382.5V378.3h1.8V382.5zM442.43 382.5V381.25h1.8V382.5zM445.11 382.5V381.52h1.8V382.5zM447.79 382.5V381.52h1.8V382.5zM450.46 382.5V381.52h1.8V382.5zM453.14 382.5V358.93h1.8V382.5zM455.82 382.5V381.52h1.8V382.5zM458.5 382.5V381.25h1.8V382.5zM461.18 382.5V381.52h1.8V382.5zM463.86 382.5V365.12h1.8V382.5zM466.54 382.5V379.91h1.8V382.5zM469.21 382.5V381.52h1.8V382.5zM471.89 382.5V381.52h1.8V382.5zM474.57 382.5V381.52h1.8V382.5zM477.25 382.5V381.52h1.8V382.5zM479.93 382.5V381.52h1.8V382.5zM482.61 382.5V381.52h1.8V382.5zM485.29 382.5V370.76h1.8V382.5zM487.96 382.5V381.52h1.8V382.5zM490.64 382.5V381.25h1.8V382.5zM493.32 382.5V381.52h1.8V382.5zM496 382.5V374.53h1.8V382.5zM498.68 382.5V381.52h1.8V382.5zM501.36 382.5V381.52h1.8V382.5zM504.04 382.5V381.52h1.8V382.5zM506.71 382.5V381.52h1.8V382.5zM509.39 382.5V381.52h1.8V382.5zM512.07 382.5V381.52h1.8V382.5zM514.75 382.5V381.52h1.8V382.5zM517.43 382.5V376.41h1.8V382.5zM520.11 382.5V381.52h1.8V382.5zM522.79 382.5V381.25h1.8V382.5zM525.46 382.5V381.52h1.8V382.5zM528.14 382.5V378.03h1.8V382.5zM530.82 382.5V381.52h1.8V382.5zM533.5 382.5V381.52h1.8V382.5zM536.18 382.5V381.52h1.8V382.5zM538.86 382.5V381.52h1.8V382.5zM541.54 382.5V381.52h1.8V382.5zM544.21 382.5V381.52h1.8V382.5zM546.89 382.5V381.52h1.8V382.5zM549.57 382.5V378.83h1.8V382.5zM552.25 382.5V381.52h1.8V382.5zM554.93 382.5V381.52h1.8V382.5zM557.61 382.5V381.52h1.8V382.5zM560.29 382.5V379.64h1.8V382.5zM562.96 382.5V381.52h1.8V382.5zM565.64 382.5V381.52h1.8V382.5zM568.32 382.5V381.52h1.8V382.5zM571 382.5V381.52h1.8V382.5zM573.68 382.5V381.52h1.8V382.5zM576.36 382.5V381.52h1.8V382.5zM579.04 382.5V381.52h1.8V382.5zM581.71 382.5V380.18h1.8V382.5zM584.39 382.5V381.52h1.8V382.5zM587.07 382.5V381.52h1.8V382.5zM589.75 382.5V381.52h1.8V382.5zM592.43 382.5V380.45h1.8V382.5zM595.11 382.5V381.52h1.8V382.5zM597.79 382.5V381.52h1.8V382.5zM600.46 382.5V381.52h1.8V382.5zM603.14 382.5V381.52h1.8V382.5zM605.82 382.5V381.52h1.8V382.5zM608.5 382.5V381.52h1.8V382.5z" fill="#1f5f99"/>
<rect x="384.4" y="212.2" width="225" height="170.3" fill="none" stroke="#666" stroke-width="0.6"/>
<path d="M395.11 382.5v-2M395.11 212.2v2" stroke="#666" stroke-width="0.5"/>
<text transform="translate(395.11 391.8)" font-size="6.5" text-anchor="middle" fill="#303030" font-weight="normal">0</text>
<path d="M421.9 382.5v-2M421.9 212.2v2" stroke="#666" stroke-width="0.5"/>
<text transform="translate(421.9 391.8)" font-size="6.5" text-anchor="middle" fill="#303030" font-weight="normal">5</text>
<path d="M448.69 382.5v-2M448.69 212.2v2" stroke="#666" stroke-width="0.5"/>
<text transform="translate(448.69 391.8)" font-size="6.5" text-anchor="middle" fill="#303030" font-weight="normal">10</text>
<path d="M475.47 382.5v-2M475.47 212.2v2" stroke="#666" stroke-width="0.5"/>
<text transform="translate(475.47 391.8)" font-size="6.5" text-anchor="middle" fill="#303030" font-weight="normal">15</text>
<path d="M502.26 382.5v-2M502.26 212.2v2" stroke="#666" stroke-width="0.5"/>
<text transform="translate(502.26 391.8)" font-size="6.5" text-anchor="middle" fill="#303030" font-weight="normal">20</text>
<path d="M529.04 382.5v-2M529.04 212.2v2" stroke="#666" stroke-width="0.5"/>
<text transform="translate(529.04 391.8)" font-size="6.5" text-anchor="middle" fill="#303030" font-weight="normal">25</text>
<path d="M555.83 382.5v-2M555.83 212.2v2" stroke="#666" stroke-width="0.5"/>
<text transform="translate(555.83 391.8)" font-size="6.5" text-anchor="middle" fill="#303030" font-weight="normal">30</text>
<path d="M582.61 382.5v-2M582.61 212.2v2" stroke="#666" stroke-width="0.5"/>
<text transform="translate(582.61 391.8)" font-size="6.5" text-anchor="middle" fill="#303030" font-weight="normal">35</text>
<path d="M609.4 382.5v-2M609.4 212.2v2" stroke="#666" stroke-width="0.5"/>
<text transform="translate(609.4 391.8)" font-size="6.5" text-anchor="middle" fill="#303030" font-weight="normal">40</text>
<path d="M384.4 382.6h2M609.4 382.6h-2" stroke="#666" stroke-width="0.5"/>
<text transform="translate(381.6 385.74)" font-size="6.5" text-anchor="end" fill="#303030" font-weight="normal">0</text>
<path d="M384.4 355.7h2M609.4 355.7h-2" stroke="#666" stroke-width="0.5"/>
<text transform="translate(381.6 358.84)" font-size="6.5" text-anchor="end" fill="#303030" font-weight="normal">1</text>
<path d="M384.4 328.8h2M609.4 328.8h-2" stroke="#666" stroke-width="0.5"/>
<text transform="translate(381.6 331.94)" font-size="6.5" text-anchor="end" fill="#303030" font-weight="normal">2</text>
<path d="M384.4 301.9h2M609.4 301.9h-2" stroke="#666" stroke-width="0.5"/>
<text transform="translate(381.6 305.04)" font-size="6.5" text-anchor="end" fill="#303030" font-weight="normal">3</text>
<path d="M384.4 275h2M609.4 275h-2" stroke="#666" stroke-width="0.5"/>
<text transform="translate(381.6 278.14)" font-size="6.5" text-anchor="end" fill="#303030" font-weight="normal">4</text>
<path d="M384.4 248.1h2M609.4 248.1h-2" stroke="#666" stroke-width="0.5"/>
<text transform="translate(381.6 251.24)" font-size="6.5" text-anchor="end" fill="#303030" font-weight="normal">5</text>
<path d="M384.4 221.2h2M609.4 221.2h-2" stroke="#666" stroke-width="0.5"/>
<text transform="translate(381.6 224.34)" font-size="6.5" text-anchor="end" fill="#303030" font-weight="normal">6</text>
<text transform="translate(431.8 209.9)" font-size="6.6" text-anchor="start" fill="#303030" font-weight="normal" textLength="129.5" lengthAdjust="spacingAndGlyphs">Fundamental (50Hz) = 446.9 , THD= 7.78%</text>
<text transform="translate(496.9 400)" font-size="6.6" text-anchor="middle" fill="#303030" font-weight="normal">Harmonic order</text>
<text transform="translate(374.8 297.35) rotate(-90)" font-size="6.6" text-anchor="middle" fill="#303030" font-weight="normal" textLength="74" lengthAdjust="spacingAndGlyphs">Mag (% of Fundamental)</text>
<path d="M367.5 59.8H621M621 185.3H351.8V59.8H352.7" fill="none" stroke="#d0d0d0" stroke-width="0.8"/>
<text transform="translate(353.2 62.46)" font-size="4.6" text-anchor="start" fill="#3838a8" font-weight="bold" textLength="12.8" lengthAdjust="spacingAndGlyphs">Signal</text>
<path d="M382.5 192.3H621M621 402H351.8V192.3H352.7" fill="none" stroke="#d0d0d0" stroke-width="0.8"/>
<text transform="translate(353.2 194.96)" font-size="4.6" text-anchor="start" fill="#3838a8" font-weight="bold" textLength="27.8" lengthAdjust="spacingAndGlyphs">FFT analysis</text>
<rect x="670.6" y="56" width="274.4" height="126.3" fill="#f0f0f0"/>
<rect x="670.6" y="185.8" width="274.4" height="215.5" fill="#f0f0f0"/>
<rect x="702.5" y="77.1" width="223.9" height="81.1" fill="#fff" stroke="#666" stroke-width="0.6"/>
<path d="M702.5 84.14 L702.82 84.42 L703.28 84.8 L703.81 85.26 L704.36 85.75 L704.86 86.24 L705.32 86.72 L705.77 87.22 L706.21 87.74 L706.67 88.29 L707.13 88.85 L707.61 89.5 L708.11 90.22 L708.6 90.94 L709.1 91.56 L709.58 92 L710.04 92.21 L710.5 92.27 L710.95 92.21 L711.4 92.1 L711.85 92 L712.31 91.84 L712.77 91.61 L713.23 91.36 L713.68 91.18 L714.12 91.12 L714.55 91.17 L714.95 91.27 L715.35 91.47 L715.77 91.81 L716.22 92.35 L716.71 93.07 L717.23 93.94 L717.77 94.98 L718.31 96.19 L718.84 97.58 L719.37 99.16 L719.89 100.9 L720.42 102.82 L720.94 104.92 L721.46 107.19 L721.99 109.73 L722.51 112.55 L723.04 115.49 L723.56 118.41 L724.09 121.16 L724.61 123.74 L725.13 126.26 L725.66 128.7 L726.18 131.08 L726.71 133.38 L727.23 135.64 L727.76 137.86 L728.28 140 L728.81 142.01 L729.33 143.86 L729.85 145.52 L730.38 147.03 L730.9 148.4 L731.43 149.67 L731.95 150.84 L732.47 151.9 L732.98 152.84 L733.5 153.69 L734.03 154.46 L734.57 155.21 L735.16 155.98 L735.8 156.78 L736.43 157.48 L737.02 157.98 L737.54 158.17 L737.96 158.1 L738.31 157.82 L738.61 157.28 L738.93 156.43 L739.29 155.21 L739.71 153.51 L740.16 151.4 L740.63 148.99 L741.1 146.43 L741.56 143.86 L742.02 141.23 L742.48 138.46 L742.94 135.6 L743.39 132.72 L743.84 129.89 L744.27 127.07 L744.71 124.22 L745.13 121.38 L745.54 118.6 L745.93 115.92 L746.31 113.31 L746.66 110.74 L747 108.25 L747.34 105.89 L747.68 103.7 L748.02 101.7 L748.34 99.87 L748.67 98.16 L749.02 96.54 L749.43 94.97 L749.9 93.42 L750.42 91.92 L750.96 90.5 L751.51 89.18 L752.05 87.98 L752.58 86.89 L753.1 85.9 L753.62 85.02 L754.15 84.26 L754.67 83.62 L755.2 83.12 L755.74 82.75 L756.27 82.5 L756.79 82.33 L757.3 82.22 L757.77 82.14 L758.24 82.11 L758.69 82.16 L759.13 82.36 L759.57 82.74 L760 83.34 L760.44 84.13 L760.86 85.05 L761.27 86.06 L761.66 87.11 L762.03 88.15 L762.37 89.22 L762.71 90.38 L763.05 91.69 L763.41 93.22 L763.81 95.01 L764.22 97.01 L764.64 99.17 L765.07 101.42 L765.51 103.7 L765.96 106.08 L766.43 108.63 L766.9 111.2 L767.36 113.67 L767.78 115.92 L768.17 117.92 L768.52 119.75 L768.86 121.45 L769.19 123.07 L769.53 124.65 L769.87 126.14 L770.19 127.53 L770.52 128.86 L770.87 130.21 L771.28 131.63 L771.75 133.19 L772.26 134.84 L772.81 136.5 L773.36 138.07 L773.9 139.49 L774.42 140.73 L774.95 141.86 L775.47 142.89 L776 143.84 L776.52 144.73 L777.05 145.56 L777.57 146.32 L778.09 147.01 L778.62 147.64 L779.14 148.22 L779.68 148.81 L780.23 149.4 L780.78 149.91 L781.3 150.24 L781.77 150.32 L782.17 150.11 L782.53 149.69 L782.86 149.07 L783.18 148.28 L783.51 147.35 L783.86 146.24 L784.21 144.93 L784.56 143.48 L784.91 141.94 L785.26 140.36 L785.61 138.73 L785.96 137 L786.31 135.21 L786.66 133.41 L787.01 131.63 L787.36 129.89 L787.71 128.14 L788.06 126.4 L788.41 124.65 L788.76 122.9 L789.11 121.16 L789.46 119.41 L789.81 117.67 L790.15 115.92 L790.5 114.17 L790.84 112.4 L791.16 110.6 L791.49 108.81 L791.85 107.08 L792.25 105.44 L792.72 103.93 L793.24 102.52 L793.78 101.17 L794.34 99.83 L794.87 98.46 L795.4 97.03 L795.92 95.58 L796.45 94.14 L796.97 92.76 L797.5 91.47 L798.02 90.29 L798.54 89.17 L799.07 88.12 L799.59 87.14 L800.12 86.24 L800.66 85.38 L801.21 84.59 L801.75 83.87 L802.27 83.25 L802.74 82.74 L803.14 82.34 L803.5 82.04 L803.83 81.84 L804.15 81.78 L804.49 81.87 L804.84 82.1 L805.19 82.46 L805.54 82.96 L805.89 83.63 L806.24 84.49 L806.58 85.63 L806.92 87.05 L807.26 88.6 L807.61 90.12 L807.98 91.47 L808.39 92.55 L808.81 93.44 L809.25 94.32 L809.68 95.36 L810.08 96.71 L810.46 98.58 L810.82 100.86 L811.17 103.25 L811.51 105.46 L811.83 107.19 L812.13 108.19 L812.42 108.67 L812.7 108.99 L812.96 109.54 L813.23 110.68 L813.46 112.59 L813.66 115.03 L813.87 117.72 L814.12 120.43 L814.45 122.9 L814.9 125.19 L815.44 127.47 L816.02 129.65 L816.58 131.65 L817.07 133.38 L817.46 134.74 L817.79 135.77 L818.1 136.65 L818.43 137.54 L818.82 138.62" fill="none" stroke="#8c8ce6" stroke-width="1.0" stroke-linejoin="round"/>
<path d="M818.82 138.62 L819.29 139.95 L819.81 141.41 L820.35 142.91 L820.9 144.35 L821.44 145.6 L821.96 146.67 L822.47 147.62 L822.99 148.47 L823.52 149.25 L824.06 149.97 L824.66 150.69 L825.3 151.39 L825.94 152 L826.54 152.43 L827.03 152.59 L827.41 152.45 L827.69 152.08 L827.92 151.52 L828.16 150.8 L828.43 149.97 L828.75 149.01 L829.06 147.9 L829.4 146.66 L829.77 145.3 L830.18 143.86 L830.65 142.33 L831.17 140.72 L831.71 139 L832.26 137.14 L832.8 135.13 L833.33 132.93 L833.87 130.57 L834.4 128.09 L834.92 125.52 L835.42 122.9 L835.89 120.19 L836.32 117.36 L836.75 114.48 L837.2 111.64 L837.7 108.93 L838.25 106.32 L838.85 103.75 L839.47 101.27 L840.08 98.9 L840.67 96.71 L841.21 94.69 L841.74 92.82 L842.26 91.08 L842.77 89.47 L843.29 87.98 L843.81 86.62 L844.34 85.4 L844.86 84.3 L845.39 83.3 L845.91 82.39 L846.45 81.55 L847 80.78 L847.55 80.13 L848.06 79.61 L848.53 79.25 L848.94 79.04 L849.3 78.95 L849.62 79.02 L849.95 79.29 L850.28 79.77 L850.62 80.53 L850.94 81.54 L851.27 82.72 L851.62 84.02 L852.03 85.36 L852.5 86.77 L853.03 88.3 L853.59 89.9 L854.13 91.56 L854.65 93.22 L855.13 94.85 L855.59 96.48 L856.04 98.16 L856.49 99.97 L856.92 101.95 L857.35 104.14 L857.75 106.5 L858.15 108.99 L858.57 111.56 L859.02 114.17 L859.51 116.88 L860.03 119.72 L860.57 122.6 L861.11 125.43 L861.64 128.14 L862.17 130.77 L862.69 133.37 L863.22 135.87 L863.74 138.23 L864.26 140.36 L864.79 142.27 L865.31 143.97 L865.84 145.51 L866.36 146.92 L866.89 148.22 L867.42 149.41 L867.96 150.45 L868.5 151.38 L869.02 152.2 L869.51 152.94 L869.97 153.63 L870.4 154.26 L870.82 154.77 L871.22 155.1 L871.6 155.21 L871.97 155.07 L872.3 154.72 L872.63 154.18 L872.98 153.47 L873.35 152.59 L873.77 151.53 L874.21 150.28 L874.67 148.86 L875.14 147.29 L875.62 145.6 L876.13 143.79 L876.65 141.83 L877.18 139.74 L877.72 137.5 L878.25 135.13 L878.77 132.56 L879.3 129.79 L879.82 126.91 L880.34 124.01 L880.87 121.16 L881.39 118.34 L881.92 115.49 L882.44 112.65 L882.97 109.87 L883.49 107.19 L884.01 104.59 L884.54 102.05 L885.06 99.58 L885.59 97.21 L886.11 94.97 L886.64 92.82 L887.16 90.77 L887.69 88.83 L888.21 87.02 L888.73 85.36 L889.26 83.85 L889.78 82.47 L890.31 81.24 L890.83 80.16 L891.36 79.25 L891.89 78.51 L892.45 77.92 L892.99 77.5 L893.51 77.24 L893.98 77.16 L894.38 77.24 L894.74 77.5 L895.07 77.92 L895.39 78.51 L895.73 79.25 L896.06 80.16 L896.38 81.24 L896.71 82.47 L897.07 83.85 L897.47 85.36 L897.95 87.05 L898.48 88.91 L899.03 90.89 L899.58 92.93 L900.09 94.97 L900.57 96.98 L901.04 99.01 L901.49 101.08 L901.93 103.22 L902.37 105.44 L902.8 107.78 L903.22 110.21 L903.63 112.69 L904.05 115.19 L904.46 117.67 L904.88 120.15 L905.3 122.68 L905.71 125.19 L906.13 127.61 L906.56 129.89 L907 131.98 L907.44 133.92 L907.89 135.78 L908.35 137.61" fill="none" stroke="#e08c9a" stroke-width="1.0" stroke-linejoin="round"/>
<path d="M908.35 137.61 L908.83 139.49 L909.34 141.48 L909.86 143.54 L910.39 145.57 L910.93 147.45 L911.46 149.1 L911.99 150.47 L912.52 151.66 L913.05 152.67 L913.58 153.56 L914.08 154.33 L914.56 155.03 L915.04 155.64 L915.5 156.11 L915.93 156.38 L916.35 156.43 L916.73 156.24 L917.07 155.84 L917.4 155.24 L917.73 154.45 L918.1 153.46 L918.49 152.24 L918.89 150.8 L919.3 149.17 L919.74 147.42 L920.2 145.6 L920.7 143.65 L921.25 141.52 L921.81 139.32 L922.34 137.15 L922.82 135.13 L923.22 133.31 L923.57 131.63 L923.9 129.99 L924.22 128.28 L924.56 126.4 L924.96 124.11 L925.38 121.5 L925.79 118.89 L926.15 116.63 L926.4 115.05" fill="none" stroke="#8c8ce6" stroke-width="1.0" stroke-linejoin="round"/>
<path d="M702.5 158.2v-2M702.5 77.1v2" stroke="#666" stroke-width="0.5"/>
<text transform="translate(702.5 166.8)" font-size="5.8" text-anchor="middle" fill="#303030" font-weight="normal">0</text>
<path d="M724.89 158.2v-2M724.89 77.1v2" stroke="#666" stroke-width="0.5"/>
<text transform="translate(724.89 166.8)" font-size="5.8" text-anchor="middle" fill="#303030" font-weight="normal">0.01</text>
<path d="M747.28 158.2v-2M747.28 77.1v2" stroke="#666" stroke-width="0.5"/>
<text transform="translate(747.28 166.8)" font-size="5.8" text-anchor="middle" fill="#303030" font-weight="normal">0.02</text>
<path d="M769.67 158.2v-2M769.67 77.1v2" stroke="#666" stroke-width="0.5"/>
<text transform="translate(769.67 166.8)" font-size="5.8" text-anchor="middle" fill="#303030" font-weight="normal">0.03</text>
<path d="M792.06 158.2v-2M792.06 77.1v2" stroke="#666" stroke-width="0.5"/>
<text transform="translate(792.06 166.8)" font-size="5.8" text-anchor="middle" fill="#303030" font-weight="normal">0.04</text>
<path d="M814.45 158.2v-2M814.45 77.1v2" stroke="#666" stroke-width="0.5"/>
<text transform="translate(814.45 166.8)" font-size="5.8" text-anchor="middle" fill="#303030" font-weight="normal">0.05</text>
<path d="M836.84 158.2v-2M836.84 77.1v2" stroke="#666" stroke-width="0.5"/>
<text transform="translate(836.84 166.8)" font-size="5.8" text-anchor="middle" fill="#303030" font-weight="normal">0.06</text>
<path d="M859.23 158.2v-2M859.23 77.1v2" stroke="#666" stroke-width="0.5"/>
<text transform="translate(859.23 166.8)" font-size="5.8" text-anchor="middle" fill="#303030" font-weight="normal">0.07</text>
<path d="M881.62 158.2v-2M881.62 77.1v2" stroke="#666" stroke-width="0.5"/>
<text transform="translate(881.62 166.8)" font-size="5.8" text-anchor="middle" fill="#303030" font-weight="normal">0.08</text>
<path d="M904.01 158.2v-2M904.01 77.1v2" stroke="#666" stroke-width="0.5"/>
<text transform="translate(904.01 166.8)" font-size="5.8" text-anchor="middle" fill="#303030" font-weight="normal">0.09</text>
<path d="M926.4 158.2v-2M926.4 77.1v2" stroke="#666" stroke-width="0.5"/>
<text transform="translate(926.4 166.8)" font-size="5.8" text-anchor="middle" fill="#303030" font-weight="normal">0.1</text>
<path d="M702.5 82.9h2M926.4 82.9h-2" stroke="#666" stroke-width="0.5"/>
<text transform="translate(700 84.99)" font-size="5.8" text-anchor="end" fill="#303030" font-weight="normal">400</text>
<path d="M702.5 99.75h2M926.4 99.75h-2" stroke="#666" stroke-width="0.5"/>
<text transform="translate(700 101.84)" font-size="5.8" text-anchor="end" fill="#303030" font-weight="normal">200</text>
<path d="M702.5 116.6h2M926.4 116.6h-2" stroke="#666" stroke-width="0.5"/>
<text transform="translate(700 118.69)" font-size="5.8" text-anchor="end" fill="#303030" font-weight="normal">0</text>
<path d="M702.5 133.45h2M926.4 133.45h-2" stroke="#666" stroke-width="0.5"/>
<text transform="translate(700 135.54)" font-size="5.8" text-anchor="end" fill="#303030" font-weight="normal">-200</text>
<path d="M702.5 150.3h2M926.4 150.3h-2" stroke="#666" stroke-width="0.5"/>
<text transform="translate(700 152.39)" font-size="5.8" text-anchor="end" fill="#303030" font-weight="normal">-400</text>
<text transform="translate(740.6 74.9)" font-size="6.1" text-anchor="start" fill="#303030" font-weight="normal" textLength="147.8" lengthAdjust="spacingAndGlyphs">Selected signal: 5 cycles. FFT window (in red): 2 cycles</text>
<text transform="translate(814.45 173.8)" font-size="6.1" text-anchor="middle" fill="#303030" font-weight="normal">Time (s)</text>
<text transform="translate(687.3 117.65) rotate(-90)" font-size="6.1" text-anchor="middle" fill="#303030" font-weight="normal" textLength="32" lengthAdjust="spacingAndGlyphs">Signal mag.</text>
<rect x="703.9" y="208.3" width="222.3" height="168.7" fill="#fff"/>
<path d="M709.19 208.3V377M719.78 208.3V377M725.07 208.3V377M730.36 208.3V377M735.66 208.3V377M746.24 208.3V377M751.54 208.3V377M756.83 208.3V377M762.12 208.3V377M772.71 208.3V377M778 208.3V377M783.29 208.3V377M788.59 208.3V377M799.17 208.3V377M804.46 208.3V377M809.76 208.3V377M815.05 208.3V377M825.64 208.3V377M830.93 208.3V377M836.22 208.3V377M841.51 208.3V377M852.1 208.3V377M857.39 208.3V377M862.69 208.3V377M867.98 208.3V377M878.56 208.3V377M883.86 208.3V377M889.15 208.3V377M894.44 208.3V377M905.03 208.3V377M910.32 208.3V377M915.61 208.3V377M920.91 208.3V377M703.9 370.26H926.2M703.9 363.62H926.2M703.9 356.98H926.2M703.9 350.34H926.2M703.9 337.06H926.2M703.9 330.42H926.2M703.9 323.78H926.2M703.9 317.14H926.2M703.9 303.86H926.2M703.9 297.22H926.2M703.9 290.58H926.2M703.9 283.94H926.2M703.9 270.66H926.2M703.9 264.02H926.2M703.9 257.38H926.2M703.9 250.74H926.2M703.9 237.46H926.2M703.9 230.82H926.2M703.9 224.18H926.2M703.9 217.54H926.2" stroke="#f2f2f2" stroke-width="0.5" fill="none"/>
<path d="M714.49 208.3V377M740.95 208.3V377M767.41 208.3V377M793.88 208.3V377M820.34 208.3V377M846.81 208.3V377M873.27 208.3V377M899.74 208.3V377M703.9 376.9H926.2M703.9 343.7H926.2M703.9 310.5H926.2M703.9 277.3H926.2M703.9 244.1H926.2M703.9 210.9H926.2" stroke="#e4e4e4" stroke-width="0.5" fill="none"/>
<path d="M713.59 377V311.16h1.8V377zM716.23 377V228.16h1.8V377zM718.88 377V208.3h1.8V377zM721.52 377V224.84h1.8V377zM724.17 377V323.12h1.8V377zM726.82 377V348.35h1.8V377zM729.46 377V331.75h1.8V377zM732.11 377V315.81h1.8V377zM734.76 377V343.04h1.8V377zM737.4 377V353.66h1.8V377zM740.05 377V240.78h1.8V377zM742.7 377V358.31h1.8V377zM745.34 377V361.3h1.8V377zM747.99 377V364.62h1.8V377zM750.64 377V232.15h1.8V377zM753.28 377V358.31h1.8V377zM755.93 377V362.29h1.8V377zM758.58 377V362.29h1.8V377zM761.22 377V373.58h1.8V377zM763.87 377V370.26h1.8V377zM766.51 377V369.26h1.8V377zM769.16 377V368.6h1.8V377zM771.81 377V341.71h1.8V377zM774.45 377V370.92h1.8V377zM777.1 377V370.92h1.8V377zM779.75 377V370.92h1.8V377zM782.39 377V339.05h1.8V377zM785.04 377V373.58h1.8V377zM787.69 377V372.92h1.8V377zM790.33 377V373.58h1.8V377zM792.98 377V367.94h1.8V377zM795.62 377V371.26h1.8V377zM798.27 377V371.92h1.8V377zM800.92 377V373.25h1.8V377zM803.56 377V355.65h1.8V377zM806.21 377V371.92h1.8V377zM808.86 377V371.92h1.8V377zM811.5 377V372.58h1.8V377zM814.15 377V366.61h1.8V377zM816.8 377V372.25h1.8V377zM819.44 377V372.58h1.8V377zM822.09 377V373.45h1.8V377zM824.74 377V374.51h1.8V377zM827.38 377V373.98h1.8V377zM830.03 377V373.45h1.8V377zM832.68 377V374.51h1.8V377zM835.32 377V364.95h1.8V377zM837.97 377V373.45h1.8V377zM840.61 377V374.51h1.8V377zM843.26 377V373.98h1.8V377zM845.91 377V366.28h1.8V377zM848.55 377V374.51h1.8V377zM851.2 377V373.98h1.8V377zM853.85 377V373.45h1.8V377zM856.49 377V374.51h1.8V377zM859.14 377V373.98h1.8V377zM861.79 377V373.45h1.8V377zM864.43 377V374.51h1.8V377zM867.08 377V369.93h1.8V377zM869.73 377V373.45h1.8V377zM872.37 377V374.51h1.8V377zM875.02 377V373.98h1.8V377zM877.66 377V373.45h1.8V377zM880.31 377V374.51h1.8V377zM882.96 377V373.98h1.8V377zM885.6 377V373.45h1.8V377zM888.25 377V374.51h1.8V377zM890.9 377V373.98h1.8V377zM893.54 377V373.45h1.8V377zM896.19 377V374.51h1.8V377zM898.84 377V371.26h1.8V377zM901.48 377V373.45h1.8V377zM904.13 377V374.51h1.8V377zM906.78 377V373.98h1.8V377zM909.42 377V371.26h1.8V377zM912.07 377V374.51h1.8V377zM914.71 377V373.98h1.8V377zM917.36 377V373.45h1.8V377zM920.01 377V374.51h1.8V377zM922.65 377V373.98h1.8V377zM925.3 377V373.45h1.8V377z" fill="#1f5f99"/>
<rect x="703.9" y="208.3" width="222.3" height="168.7" fill="none" stroke="#666" stroke-width="0.6"/>
<path d="M714.49 377v-2M714.49 208.3v2" stroke="#666" stroke-width="0.5"/>
<text transform="translate(714.49 386.2)" font-size="6.5" text-anchor="middle" fill="#303030" font-weight="normal">0</text>
<path d="M740.95 377v-2M740.95 208.3v2" stroke="#666" stroke-width="0.5"/>
<text transform="translate(740.95 386.2)" font-size="6.5" text-anchor="middle" fill="#303030" font-weight="normal">5</text>
<path d="M767.41 377v-2M767.41 208.3v2" stroke="#666" stroke-width="0.5"/>
<text transform="translate(767.41 386.2)" font-size="6.5" text-anchor="middle" fill="#303030" font-weight="normal">10</text>
<path d="M793.88 377v-2M793.88 208.3v2" stroke="#666" stroke-width="0.5"/>
<text transform="translate(793.88 386.2)" font-size="6.5" text-anchor="middle" fill="#303030" font-weight="normal">15</text>
<path d="M820.34 377v-2M820.34 208.3v2" stroke="#666" stroke-width="0.5"/>
<text transform="translate(820.34 386.2)" font-size="6.5" text-anchor="middle" fill="#303030" font-weight="normal">20</text>
<path d="M846.81 377v-2M846.81 208.3v2" stroke="#666" stroke-width="0.5"/>
<text transform="translate(846.81 386.2)" font-size="6.5" text-anchor="middle" fill="#303030" font-weight="normal">25</text>
<path d="M873.27 377v-2M873.27 208.3v2" stroke="#666" stroke-width="0.5"/>
<text transform="translate(873.27 386.2)" font-size="6.5" text-anchor="middle" fill="#303030" font-weight="normal">30</text>
<path d="M899.74 377v-2M899.74 208.3v2" stroke="#666" stroke-width="0.5"/>
<text transform="translate(899.74 386.2)" font-size="6.5" text-anchor="middle" fill="#303030" font-weight="normal">35</text>
<path d="M926.2 377v-2M926.2 208.3v2" stroke="#666" stroke-width="0.5"/>
<text transform="translate(926.2 386.2)" font-size="6.5" text-anchor="middle" fill="#303030" font-weight="normal">40</text>
<path d="M703.9 376.9h2M926.2 376.9h-2" stroke="#666" stroke-width="0.5"/>
<text transform="translate(701.1 380.04)" font-size="6.5" text-anchor="end" fill="#303030" font-weight="normal">0</text>
<path d="M703.9 343.7h2M926.2 343.7h-2" stroke="#666" stroke-width="0.5"/>
<text transform="translate(701.1 346.84)" font-size="6.5" text-anchor="end" fill="#303030" font-weight="normal">0.5</text>
<path d="M703.9 310.5h2M926.2 310.5h-2" stroke="#666" stroke-width="0.5"/>
<text transform="translate(701.1 313.64)" font-size="6.5" text-anchor="end" fill="#303030" font-weight="normal">1</text>
<path d="M703.9 277.3h2M926.2 277.3h-2" stroke="#666" stroke-width="0.5"/>
<text transform="translate(701.1 280.44)" font-size="6.5" text-anchor="end" fill="#303030" font-weight="normal">1.5</text>
<path d="M703.9 244.1h2M926.2 244.1h-2" stroke="#666" stroke-width="0.5"/>
<text transform="translate(701.1 247.24)" font-size="6.5" text-anchor="end" fill="#303030" font-weight="normal">2</text>
<path d="M703.9 210.9h2M926.2 210.9h-2" stroke="#666" stroke-width="0.5"/>
<text transform="translate(701.1 214.04)" font-size="6.5" text-anchor="end" fill="#303030" font-weight="normal">2.5</text>
<text transform="translate(751 205.8)" font-size="6.6" text-anchor="start" fill="#303030" font-weight="normal" textLength="127.6" lengthAdjust="spacingAndGlyphs">Fundamental (50Hz) = 431.9 , THD= 4.27%</text>
<text transform="translate(815.05 394.4)" font-size="6.6" text-anchor="middle" fill="#303030" font-weight="normal">Harmonic order</text>
<text transform="translate(690.3 292.65) rotate(-90)" font-size="6.6" text-anchor="middle" fill="#303030" font-weight="normal" textLength="74" lengthAdjust="spacingAndGlyphs">Mag (% of Fundamental)</text>
<path d="M687.1 58.5H944.15V181.1H671.4V58.5H672.3" fill="none" stroke="#d0d0d0" stroke-width="0.8"/>
<text transform="translate(672.8 61.16)" font-size="4.6" text-anchor="start" fill="#3838a8" font-weight="bold" textLength="12.8" lengthAdjust="spacingAndGlyphs">Signal</text>
<path d="M701.5 188.3H944.15V400.8H671.4V188.3H672.3" fill="none" stroke="#d0d0d0" stroke-width="0.8"/>
<text transform="translate(672.8 190.96)" font-size="4.6" text-anchor="start" fill="#3838a8" font-weight="bold" textLength="27.2" lengthAdjust="spacingAndGlyphs">FFT analysis</text>
<g transform="translate(948 399.6) scale(1.08)" stroke="#777" fill="none" stroke-width="0.8"><path d="M6.3 -4.2V-0.6H0.6"/><path d="M2.6 -2.6L0.3 -0.6L2.6 1.4" fill="#777" stroke-width="0.5"/></g>
<g transform="translate(173.8 13.4) scale(1)" stroke="#777" fill="none" stroke-width="0.8"><path d="M6.3 -4.2V-0.6H0.6"/><path d="M2.6 -2.6L0.3 -0.6L2.6 1.4" fill="#777" stroke-width="0.5"/></g>
<g transform="translate(897 447.6) scale(1.08)" stroke="#777" fill="none" stroke-width="0.8"><path d="M6.3 -4.2V-0.6H0.6"/><path d="M2.6 -2.6L0.3 -0.6L2.6 1.4" fill="#777" stroke-width="0.5"/></g>
<g transform="translate(801.2 475.6) scale(1.08)" stroke="#777" fill="none" stroke-width="0.8"><path d="M6.3 -4.2V-0.6H0.6"/><path d="M2.6 -2.6L0.3 -0.6L2.6 1.4" fill="#777" stroke-width="0.5"/></g>
<g transform="translate(201.9 504.4) scale(1.08)" stroke="#777" fill="none" stroke-width="0.8"><path d="M6.3 -4.2V-0.6H0.6"/><path d="M2.6 -2.6L0.3 -0.6L2.6 1.4" fill="#777" stroke-width="0.5"/></g>
<text x="46.2" y="450.2" font-size="14" fill="#111" style="font-family:'Liberation Sans','Noto Sans CJK SC',sans-serif">未安装</text>
<text x="119.9" y="450.2" font-size="14" fill="#111" style="font-family:'Liberation Sans','Noto Sans CJK SC',sans-serif">滤波器</text>
<text x="160.6" y="450.2" font-size="14" fill="#333" style="font-family:'Liberation Sans','Noto Sans CJK SC',sans-serif">（</text>
<text x="300.6" y="450.2" font-size="14" fill="#333" style="font-family:'Liberation Sans','Noto Sans CJK SC',sans-serif">）</text>
<text x="362.2" y="450.2" font-size="14" fill="#111" style="font-family:'Liberation Sans','Noto Sans CJK SC',sans-serif">安装</text>
<text x="518.4" y="450.2" font-size="14" fill="#111" style="font-family:'Liberation Sans','Noto Sans CJK SC',sans-serif">后</text>
<text x="533.5" y="450.2" font-size="14" fill="#111" style="font-family:'Liberation Sans','Noto Sans CJK SC',sans-serif">（</text>
<text x="576.2" y="450.2" font-size="14" fill="#111" style="font-family:'Liberation Sans','Noto Sans CJK SC',sans-serif">）</text>
<text x="686" y="450.2" font-size="14" fill="#111" style="font-family:'Liberation Sans','Noto Sans CJK SC',sans-serif">安装</text>
<text x="841.8" y="450.2" font-size="14" fill="#111" style="font-family:'Liberation Sans','Noto Sans CJK SC',sans-serif">后</text>
</svg>
<span class="t" style="transform:scaleX(0.9760);left:20.7px;top:3.96px;font-size:15.4px;font-weight:bold;color:#000">250kW 400V AC 50Hz</span>
<span class="t" style="transform:scaleX(1.0304);left:91.9px;top:440.08px;font-size:12.9px;font-weight:normal;color:#111">HFL</span>
<span class="t" style="transform:scaleX(1.0026);left:174.4px;top:439.84px;font-size:12px;font-weight:normal;color:#333">No HFL filter is installed</span>
<span class="t" style="transform:scaleX(0.9977);left:54.6px;top:466.14px;font-size:14.6px;font-weight:normal;color:#111">(THDI 40.15%)</span>
<span class="t" style="transform:scaleX(1.0083);left:393.4px;top:437.68px;font-size:14.2px;font-weight:normal;color:#111">HFL05-0480A4005</span>
<span class="t" style="transform:scaleX(1.0919);left:545.8px;top:437.68px;font-size:14.2px;font-weight:normal;color:#111">after</span>
<span class="t" style="transform:scaleX(0.9976);left:386.9px;top:466.14px;font-size:14.6px;font-weight:normal;color:#111">(THDI 7.8%)</span>
<span class="t" style="transform:scaleX(1.0100);left:717.1px;top:437.68px;font-size:14.2px;font-weight:normal;color:#111">HFL05-0480A4005</span>
<span class="t" style="transform:scaleX(1.0570);left:855.5px;top:437.68px;font-size:14.2px;font-weight:normal;color:#111">(after)</span>
<span class="t" style="transform:scaleX(0.9902);left:710.2px;top:466.14px;font-size:14.6px;font-weight:normal;color:#111">(THDI 4.3%)</span>
</body></html>
